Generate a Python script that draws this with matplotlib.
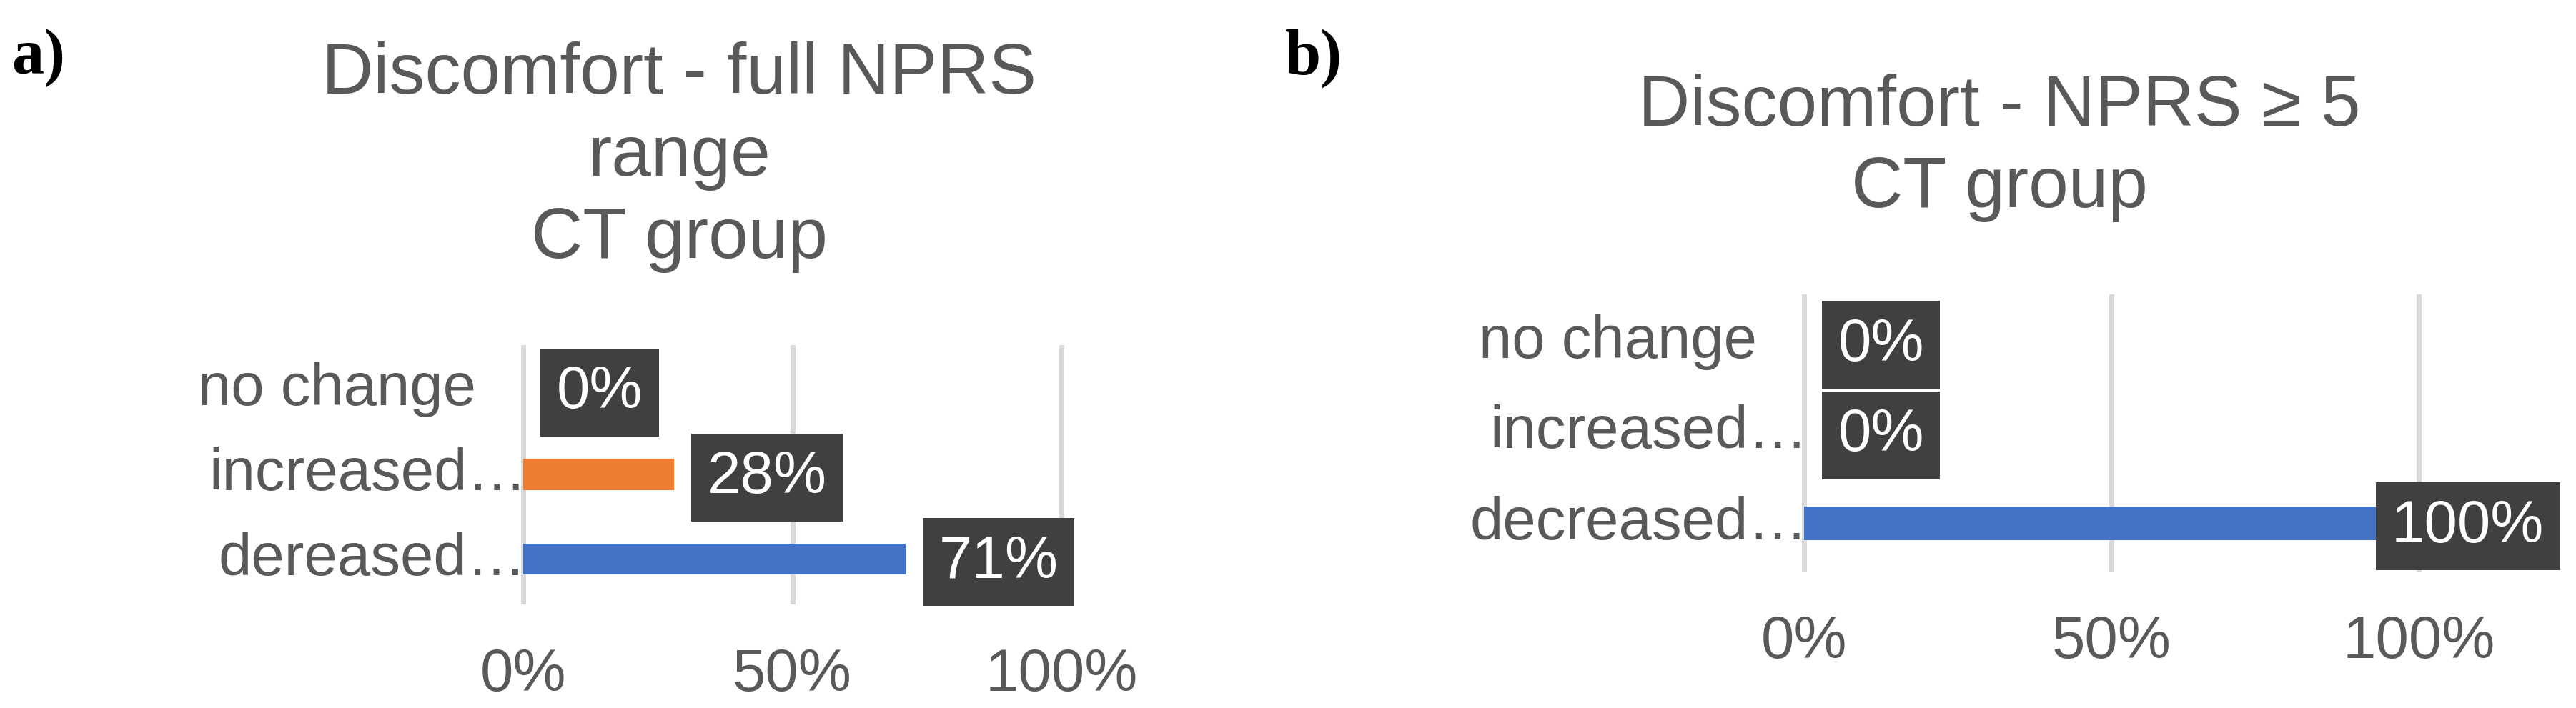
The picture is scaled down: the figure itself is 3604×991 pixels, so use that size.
import numpy as np
import matplotlib
matplotlib.use('Agg')
import matplotlib.pyplot as plt

# DATOS
categorias_a = ['no change', 'increased…', 'dereased…']
valores_a = [0.00, 0.28, 0.71]
titulo_a = ['Discomfort - full NPRS', 'range', 'CT group']

categorias_b = ['no change', 'increased…', 'decreased…']
valores_b = [0.00, 0.00, 1.00]
titulo_b = ['Discomfort - NPRS ≥ 5', 'CT group']

ticks_x = [0, 0.5, 1.0]
ticks_x_txt = ['0%', '50%', '100%']

# ESTILO
W, H = 3605, 991
DPI = 100
plt.rcParams['font.family'] = ['Liberation Sans', 'DejaVu Sans']
gris_txt = '#595959'
colores_barras = ['#A5A5A5', '#ED7D31', '#4472C4']

fig = plt.figure(figsize=(W / DPI, H / DPI), dpi=DPI)


def rect(izq, arriba, der, abajo):
    return [izq / W, 1 - abajo / H, (der - izq) / W, (abajo - arriba) / H]


def panel(caja, categorias, valores, offsets_cat):
    ax = fig.add_axes(rect(*caja))
    y = np.arange(len(categorias))
    ax.barh(y, valores, height=0.365, color=colores_barras, zorder=2)
    ax.set_xlim(0, 1)
    ax.set_ylim(len(categorias) - 0.5, -0.5)
    ax.set_xticks(ticks_x, ticks_x_txt)
    ax.set_yticks([])
    ax.tick_params(axis='x', length=0, pad=46, labelsize=60, labelcolor=gris_txt)
    ax.xaxis.grid(True, color='#D9D9D9', linewidth=5, zorder=0)
    for linea in ax.get_xgridlines():
        linea.set_clip_on(False)
    ax.set_axisbelow(True)
    for s in ax.spines.values():
        s.set_visible(False)

    # etiquetas de categoria
    for i, cat in enumerate(categorias):
        ax.annotate(cat, xy=(0, i), xycoords=ax.get_yaxis_transform(),
                    xytext=(-offsets_cat[i], 0), textcoords='offset pixels',
                    ha='right', va='center', fontsize=60, color=gris_txt,
                    annotation_clip=False)

    # etiquetas de datos
    etiquetas = []
    for i, v in enumerate(valores):
        t = ax.annotate(f'{v:.0%}', xy=(v, i), xytext=(47, -4),
                        textcoords='offset pixels', ha='left', va='center',
                        fontsize=60, color='white', zorder=3,
                        bbox=dict(boxstyle='square,pad=0.27', fc='#404040', ec='none'))
        etiquetas.append(t)
    return ax, etiquetas


ax_a, etq_a = panel((732, 486, 1485, 842), categorias_a, valores_a, [66, -5, -5])
ax_b, etq_b = panel((2524.5, 415, 3384.5, 796), categorias_b, valores_b, [66, -5, -5])

# TITULOS
for k, linea in enumerate(titulo_a):
    fig.text(950 / W, 1 - (131 + 115 * k) / H, linea, ha='center', va='baseline',
             fontsize=72, color=gris_txt)
for k, linea in enumerate(titulo_b):
    fig.text(2797 / W, 1 - (176 + 114 * k) / H, linea, ha='center', va='baseline',
             fontsize=72, color=gris_txt)

fig.text(16 / W, 1 - 103 / H, 'a)', fontsize=65, fontweight='bold',
         family='Liberation Serif', va='baseline', ha='left')
fig.text(1798 / W, 1 - 104 / H, 'b)', fontsize=65, fontweight='bold',
         family='Liberation Serif', va='baseline', ha='left')

# AJUSTE: las etiquetas quedan dentro del area del grafico
fig.canvas.draw()
limite = W - 23
for t in etq_a + etq_b:
    caja = t.get_bbox_patch().get_window_extent()
    if caja.x1 > limite:
        dx, dy = t.xyann
        t.xyann = (dx - (caja.x1 - limite), dy)

fig.savefig('out.png', dpi=DPI, facecolor='white')
